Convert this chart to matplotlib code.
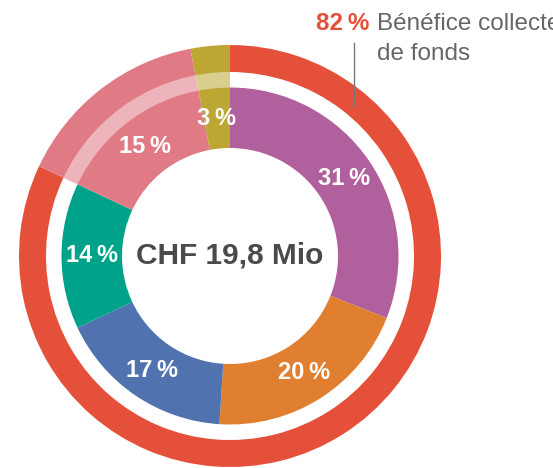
import matplotlib.pyplot as plt

plt.rcParams['font.family'] = ['Liberation Sans', 'DejaVu Sans']

# inner ring: use of funds (percent), clockwise from 12 o'clock
shares = [31, 20, 17, 14, 15, 3]
share_colors = ['#b0609c', '#e07f30', '#5073b0', '#00a389', '#e07a85', '#bca634']

# outer ring: fundraising benefit vs. the rest (pink + olive)
outer = [82, 15, 3]
outer_colors = ['#e5503a', '#e07a85', '#bca634']
band = [82, 18]

total_label = 'CHF 19,8 Mio'
benefit_pct = '82\u2009%'
benefit_text = 'Bénéfice collecte\nde fonds'

W, H = 553, 468
fig = plt.figure(figsize=(W / 100, H / 100), dpi=100)
ax = fig.add_axes([0, 0, 1, 1])

c = (230, 212)
r_hole, r_in, r_gap, r_out = 108, 168.5, 184, 211

# outer ring (red), with the pink / olive part reaching out to the rim
ow, _ = ax.pie(outer, colors=outer_colors, radius=r_out, center=c,
               startangle=90, counterclock=False,
               wedgeprops=dict(width=r_out - r_gap, linewidth=0))
for w in ow[1:]:
    w.set_width(r_out - r_in)

# lighter band where the white gap runs through pink / olive
ax.pie(band, colors=['none', (1, 1, 1, 0.45)], radius=r_gap, center=c,
       startangle=90, counterclock=False,
       wedgeprops=dict(width=r_gap - r_in, linewidth=0))

# inner ring
ax.pie(shares, colors=share_colors, radius=r_in, center=c,
       startangle=90, counterclock=False,
       autopct=lambda p: f'{p:.0f}\u2009%',
       pctdistance=(r_hole + r_in) / 2 / r_in,
       textprops=dict(color='white', fontsize=17, fontweight='bold'),
       wedgeprops=dict(width=r_in - r_hole, linewidth=0))

ax.text(c[0], c[1], total_label, ha='center', va='center',
        fontsize=21.5, fontweight='bold', color='#4a4a4a')

# annotation (the reference also runs past the right edge)
ax.text(369, H - 23, benefit_pct, ha='right', va='center',
        fontsize=17.5, fontweight='bold', color='#e5503a')
ax.text(377, H - 13, benefit_text, ha='left', va='top',
        fontsize=17.5, color='#666666', linespacing=1.45)
ax.plot([354, 354], [H - 43, H - 106], color='#777777', linewidth=1)

ax.set_aspect('equal')
ax.set_xlim(0, W)
ax.set_ylim(0, H)
ax.axis('off')

fig.savefig('out.png', dpi=100)
